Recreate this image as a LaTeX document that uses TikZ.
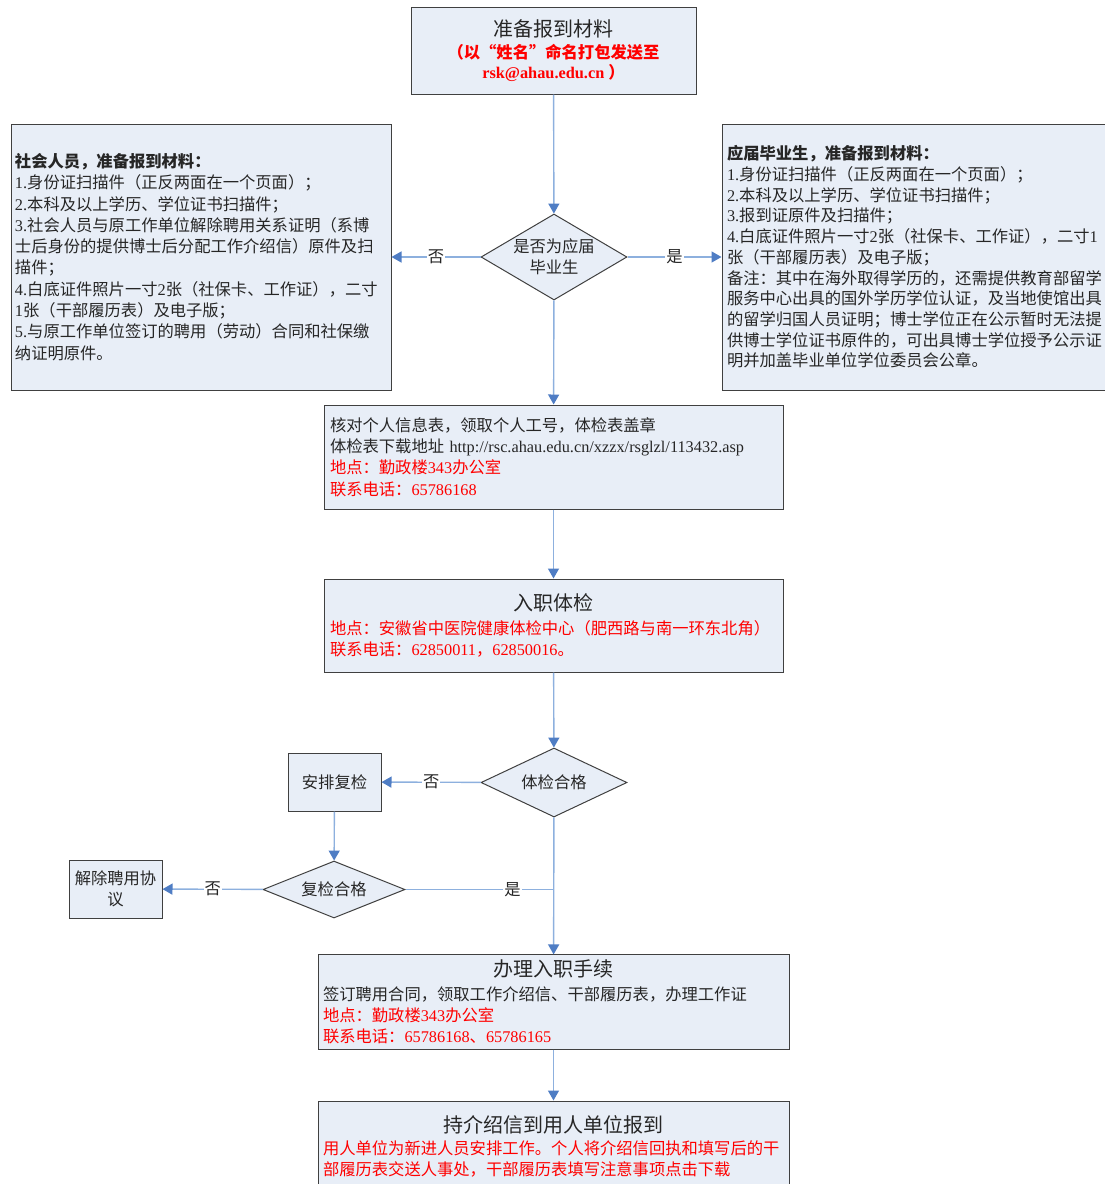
\documentclass[tikz,border=0pt]{standalone}
\usepackage{fontspec}
\usepackage{tikz}
\usetikzlibrary{arrows.meta,positioning,shapes.geometric}
\newfontfamily\cjk{Noto Sans CJK SC}
\newfontfamily\en{Liberation Serif}
\newcommand{\lat}[1]{{\en #1}}
\newcommand{\body}{\cjk\fontsize{16.3}{21.3}\selectfont}
\newcommand{\head}{\fontsize{20}{24}\selectfont}
\definecolor{boxfill}{RGB}{232,238,247}
\definecolor{boxline}{RGB}{64,64,64}
\definecolor{flowline}{RGB}{141,176,222}
\definecolor{flowtip}{RGB}{79,125,196}
\definecolor{txt}{RGB}{38,38,38}
\definecolor{hot}{RGB}{255,0,0}

\begin{document}
\begin{tikzpicture}[x=1pt,y=-1pt,
	box/.style={draw=boxline,fill=boxfill,line width=1pt,rectangle,text=txt,font=\body},
	choice/.style={draw=boxline,fill=boxfill,line width=1pt,diamond,aspect=1.7,inner sep=0pt,text=txt,font=\body,align=center},
	flow/.style={draw=flowline,line width=1.4pt,-{Triangle[length=10pt,width=11pt,color=flowtip]}},
	mergeline/.style={draw=flowline,line width=1.4pt},
	yesno/.style={fill=white,text=txt,font=\body,inner sep=1pt}]
	\useasboundingbox (0,0) rectangle (1105,1184);
	\node (top) at (553.5,50.5) [box,minimum width=285pt,minimum height=87pt,align=center] {{\head 准备报到材料}\\[1pt]
		{\color{hot}\bfseries （以“姓名”命名打包发送至}\\[-1pt]
		{\color{hot}\bfseries\lat{rsk@ahau.edu.cn }）}};
	\node (social) at (201,257) [box,minimum width=380pt,minimum height=266pt,inner sep=4pt,text width=372pt,align=left] {\textbf{社会人员，准备报到材料：}\\
		\lat{1.}身份证扫描件（正反两面在一个页面）；\\
		\lat{2.}本科及以上学历、学位证书扫描件；\\
		\lat{3.}社会人员与原工作单位解除聘用关系证明（系博\\
		士后身份的提供博士后分配工作介绍信）原件及扫\\
		描件；\\
		\lat{4.}白底证件照片一寸\lat{2}张（社保卡、工作证），二寸\\
		\lat{1}张（干部履历表）及电子版；\\
		\lat{5.}与原工作单位签订的聘用（劳动）合同和社保缴\\
		纳证明原件。};
	\node (graduate) at (917,257) [box,minimum width=390pt,minimum height=266pt,inner sep=5pt,text width=380pt,align=left,font=\cjk\fontsize{16.3}{20.7}\selectfont] {\textbf{应届毕业生，准备报到材料：}\\
		\lat{1.}身份证扫描件（正反两面在一个页面）；\\
		\lat{2.}本科及以上学历、学位证书扫描件；\\
		\lat{3.}报到证原件及扫描件；\\
		\lat{4.}白底证件照片一寸\lat{2}张（社保卡、工作证），二寸\lat{1}\\
		张（干部履历表）及电子版；\\
		备注：其中在海外取得学历的，还需提供教育部留学\\
		服务中心出具的国外学历学位认证，及当地使馆出具\\
		的留学归国人员证明；博士学位正在公示暂时无法提\\
		供博士学位证书原件的，可出具博士学位授予公示证\\
		明并加盖毕业单位学位委员会公章。};
	\node (fresh) at (554,257) [choice,minimum width=146pt,minimum height=86pt] {是否为应届\\毕业生};
	\node (sheet) at (553.5,457) [box,minimum width=459pt,minimum height=104pt,inner sep=6pt,text width=447pt,align=left] {核对个人信息表，领取个人工号，体检表盖章\\
		体检表下载地址\lat{ http://rsc.ahau.edu.cn/xzzx/rsglzl/113432.asp}\\
		{\color{hot}地点：勤政楼\lat{343}办公室}\\
		{\color{hot}联系电话：\lat{65786168}}};
	\node (exam) at (553.5,625.5) [box,minimum width=459pt,minimum height=93pt,inner sep=6pt,text width=447pt,align=left] {\makebox[\linewidth]{\head 入职体检}\\[2pt]
		{\color{hot}地点：安徽省中医院健康体检中心（肥西路与南一环东北角）}\\
		{\color{hot}联系电话：\lat{62850011}，\lat{62850016}。}};
	\node (pass) at (554,782.5) [choice,minimum width=146pt,minimum height=69pt] {体检合格};
	\node (recheck) at (334.5,782) [box,minimum width=93pt,minimum height=58pt,align=center] {安排复检};
	\node (repass) at (334,889.5) [choice,minimum width=142pt,minimum height=57pt] {复检合格};
	\node (cancel) at (115.5,889) [box,minimum width=93pt,minimum height=58pt,inner sep=2pt,align=center] {解除聘用协\\议};
	\node (entry) at (553.5,1002) [box,minimum width=471pt,minimum height=94pt,inner sep=5pt,text width=461pt,align=left] {\makebox[\linewidth]{\head 办理入职手续}\\[2pt]
		签订聘用合同，领取工作介绍信、干部履历表，办理工作证\\
		{\color{hot}地点：勤政楼\lat{343}办公室}\\
		{\color{hot}联系电话：\lat{65786168}、\lat{65786165}}};
	\node (report) at (553.5,1146.5) [box,minimum width=471pt,minimum height=91pt,inner sep=5pt,text width=461pt,align=left] {\makebox[\linewidth]{\head 持介绍信到用人单位报到}\\[1pt]
		{\color{hot}用人单位为新进人员安排工作。个人将介绍信回执和填写后的干}\\
		{\color{hot}部履历表交送人事处，干部履历表填写注意事项点击下载}};
	\coordinate (merge) at (pass |- repass);
	\draw [flow] (top) -- (fresh);
	\draw [flow] (fresh) -- node [yesno] {否} (social);
	\draw [flow] (fresh) -- node [yesno] {是} (graduate);
	\draw [flow] (fresh) -- (sheet);
	\draw [flow] (sheet) -- (exam);
	\draw [flow] (exam) -- (pass);
	\draw [flow] (pass) -- node [yesno] {否} (recheck);
	\draw [flow] (recheck) -- (repass);
	\draw [flow] (repass) -- node [yesno] {否} (cancel);
	\draw [mergeline] (repass) -- node [yesno,pos=0.72] {是} (merge);
	\draw [flow] (pass) -- (entry);
	\draw [flow] (entry) -- (report);
\end{tikzpicture}
\end{document}
